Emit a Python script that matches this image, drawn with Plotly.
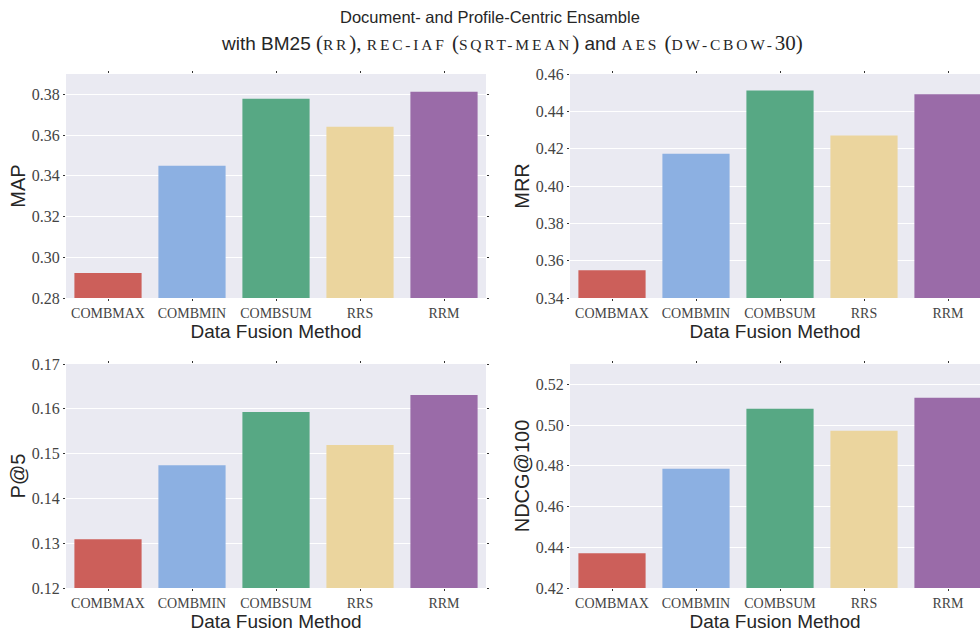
import plotly.graph_objects as go
from plotly.subplots import make_subplots

# Data fusion methods and the scores each metric gets
methods = ["COMBMAX", "COMBMIN", "COMBSUM", "RRS", "RRM"]
map_scores = [0.2923, 0.3449, 0.3779, 0.3641, 0.3813]
mrr_scores = [0.3549, 0.4173, 0.4512, 0.4270, 0.4491]
p5_scores = [0.1309, 0.1474, 0.1593, 0.1519, 0.1631]
ndcg_scores = [0.4371, 0.4785, 0.5080, 0.4972, 0.5134]

bar_colors = ["#CC5F5A", "#8CB0E2", "#57A884", "#EBD59E", "#9A6BA8"]

SERIF = "Liberation Serif, serif"
SANS = "Liberation Sans, sans-serif"

fig = make_subplots(rows=2, cols=2)

panels = [
    (1, 1, map_scores, "MAP", [0.28, 0.39], 0.02),
    (1, 2, mrr_scores, "MRR", [0.34, 0.46], 0.02),
    (2, 1, p5_scores, "P@5", [0.12, 0.17], 0.01),
    (2, 2, ndcg_scores, "NDCG@100", [0.42, 0.53], 0.02),
]

for r, c, vals, name, yr, dt in panels:
    fig.add_trace(
        go.Bar(x=methods, y=vals, marker=dict(color=bar_colors, line_width=0),
               showlegend=False, hoverinfo="x+y"),
        row=r, col=c,
    )
    fig.update_yaxes(
        range=yr, dtick=dt, tick0=yr[0], tickformat=".2f",
        title=dict(text=name, font=dict(family=SANS, size=20, color="#262626"), standoff=0),
        tickfont=dict(family=SERIF, size=16, color="#444444"),
        showgrid=True, gridcolor="white", gridwidth=1.2, zeroline=False,
        ticks="outside", ticklen=2, tickcolor="#333333", mirror="ticks",
        automargin=False,
        row=r, col=c,
    )
    # right-hand panels run past the page edge, so the last bar is cut
    xr = [-0.5, 4.5] if c == 1 else [-0.5, 4.381]
    fig.update_xaxes(
        range=xr,
        ticktext=methods, tickvals=methods,
        title=dict(text="Data Fusion Method", font=dict(family=SANS, size=19, color="#262626"), standoff=4),
        tickfont=dict(family=SERIF, size=14, color="#444444"),
        showgrid=False, zeroline=False,
        ticks="outside", ticklen=2, tickcolor="#333333", mirror="ticks",
        automargin=False,
        row=r, col=c,
    )

left_dom = [66 / 980, 486 / 980]
right_dom = [570 / 980, 1.0]
top_dom = [(632 - 298) / 632, (632 - 74) / 632]
bot_dom = [(632 - 588) / 632, (632 - 364) / 632]

fig.update_layout(
    xaxis=dict(domain=left_dom), xaxis2=dict(domain=right_dom),
    xaxis3=dict(domain=left_dom), xaxis4=dict(domain=right_dom),
    yaxis=dict(domain=top_dom), yaxis2=dict(domain=top_dom),
    yaxis3=dict(domain=bot_dom), yaxis4=dict(domain=bot_dom),
)


def small_caps(s):
    return f"<span style=\"font-family:'Liberation Serif';font-size:15.5px;letter-spacing:2.8px\">{s}</span>"


def roman(s):
    return f"<span style=\"font-family:'Liberation Serif';font-size:21px\">{s}</span>"


line1 = "Document- and Profile-Centric Ensamble"
line2 = (
    "with BM25 "
    + roman("(") + small_caps("RR") + roman("), ")
    + small_caps("REC-IAF") + roman(" (") + small_caps("SQRT-MEAN") + roman(")")
    + " and "
    + small_caps("AES") + roman(" (") + small_caps("DW-CBOW-") + roman("30)")
)

fig.add_annotation(text=line1, x=0.5, y=(632 - 17) / 632, xref="paper", yref="paper",
                   yanchor="middle", showarrow=False,
                   font=dict(family=SANS, size=16.5, color="#262626"))
fig.add_annotation(text=line2, x=0.5, y=(632 - 43) / 632, xref="paper", yref="paper",
                   yanchor="middle", showarrow=False, xshift=22,
                   font=dict(family=SANS, size=19, color="#262626"))

fig.update_layout(
    width=980, height=632,
    margin=dict(l=0, r=0, t=0, b=0),
    paper_bgcolor="white", plot_bgcolor="#EAEAF2",
    bargap=0.2,
)

fig.write_html("out.html")
